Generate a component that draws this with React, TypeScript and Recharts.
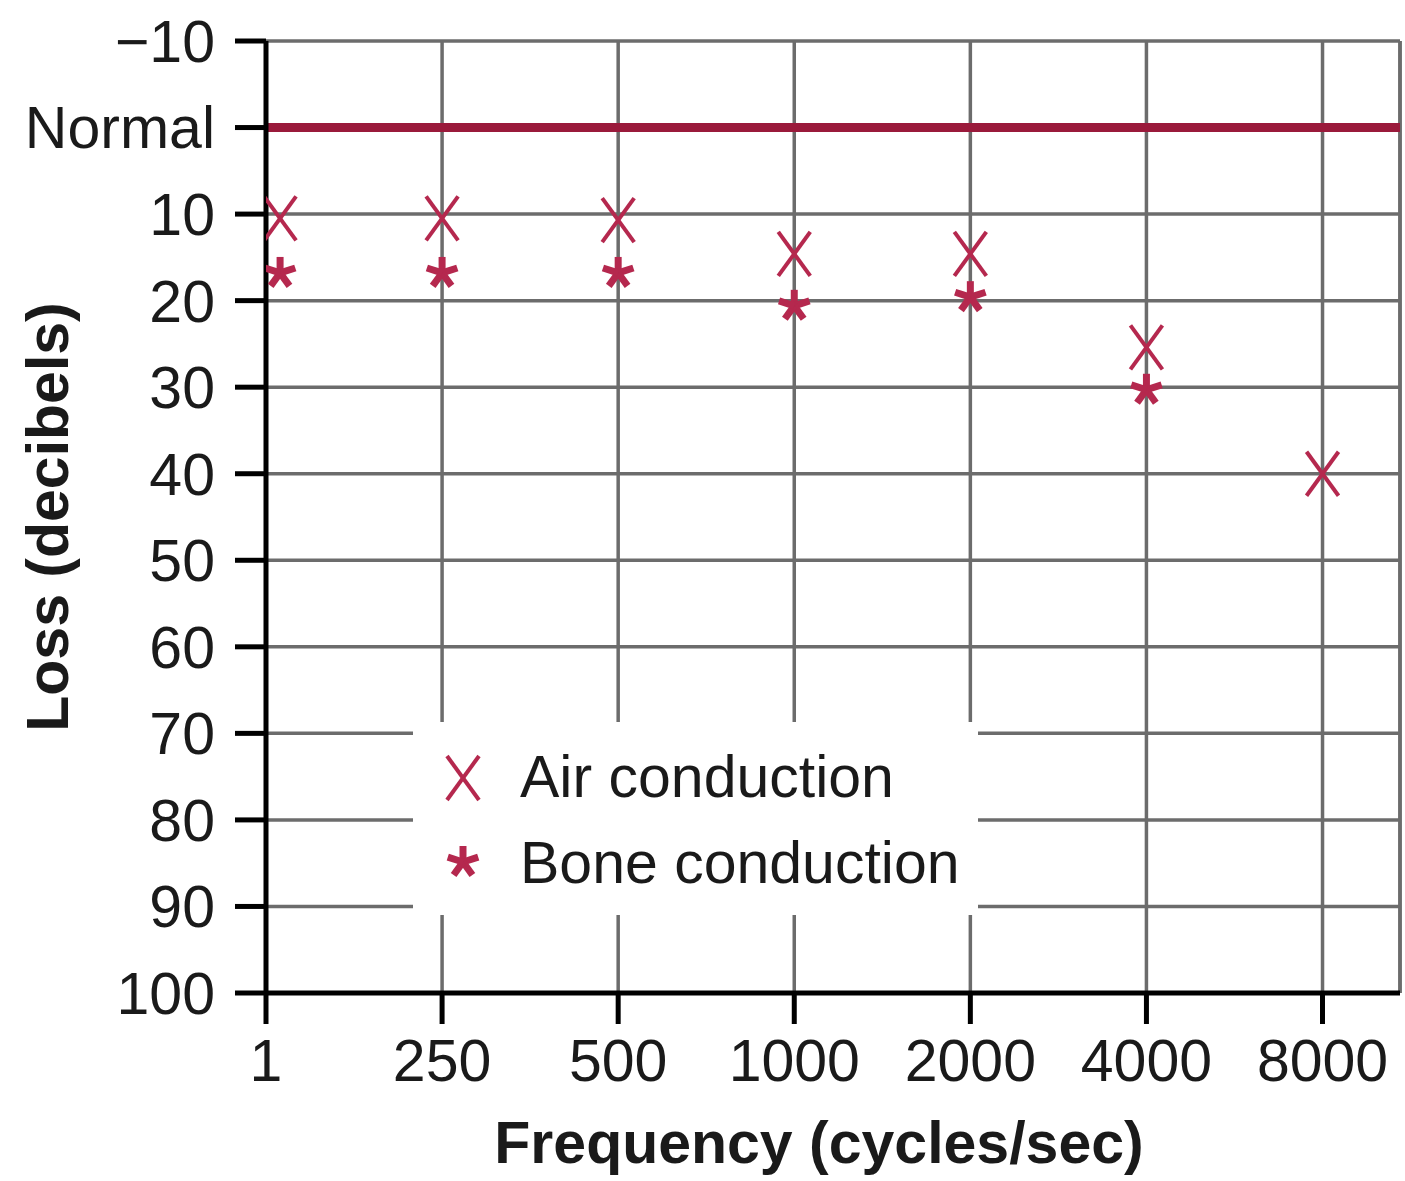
import React from 'react';
import { ScatterChart, Scatter, XAxis, YAxis, CartesianGrid, ReferenceLine, Label } from 'recharts';

// ---- data ----
const categories = ['1', '250', '500', '1000', '2000', '4000', '8000'];
const xPositions = [0.08, 1, 2, 3, 4, 5, 6];
const airConduction = [10.5, 10.5, 10.7, 14.6, 14.6, 25.4, 40];
const boneConduction: (number | null)[] = [16.8, 16.8, 16.8, 20.6, 19.6, 30.3, null];
const yTicks = [-10, 0, 10, 20, 30, 40, 50, 60, 70, 80, 90, 100];
const xTicks = [0, 1, 2, 3, 4, 5, 6];
const xMax = 6.44;
const normalLevel = 0;

const airData = xPositions.map((x, i) => ({ x, y: airConduction[i] }));
const boneData = xPositions
  .map((x, i) => ({ x, y: boneConduction[i] }))
  .filter((d) => d.y !== null);

const FONT = '"Liberation Sans", Arial, Helvetica, sans-serif';
const MARK = '#b5284e';
const NORMAL = '#9a1a3b';
const GRID = '#6c6c6c';
const TEXT = '#1a1a1a';
const FS = 59;

const drawX = (cx: number, cy: number) => (
  <g stroke={MARK} strokeWidth={4} fill="none">
    <line x1={cx - 16} y1={cy - 22} x2={cx + 16} y2={cy + 22} />
    <line x1={cx + 16} y1={cy - 22} x2={cx - 16} y2={cy + 22} />
  </g>
);

const drawStar = (cx: number, cy: number) => {
  const arms = [-90, -18, 54, 126, 198];
  return (
    <g stroke={MARK} strokeWidth={7} fill="none">
      {arms.map((a) => {
        const r = (a * Math.PI) / 180;
        return <line key={a} x1={cx} y1={cy} x2={cx + 16 * Math.cos(r)} y2={cy + 16 * Math.sin(r)} />;
      })}
    </g>
  );
};

const XShape = (props: any) => drawX(props.cx, props.cy);
const StarShape = (props: any) => drawStar(props.cx, props.cy);

const fmtY = (v: number) => (v === normalLevel ? 'Normal' : v < 0 ? '\u2212' + Math.abs(v) : String(v));

export default function App() {
  return (
    <div style={{ position: 'absolute', left: 0, top: 0, width: 1405, height: 1181, background: '#fff' }}>
      <ScatterChart width={1405} height={1181} margin={{ top: 41, right: 5, bottom: 0, left: 0 }}>
        <CartesianGrid stroke={GRID} strokeWidth={3.5} />
        <XAxis
          type="number"
          dataKey="x"
          domain={[0, xMax]}
          ticks={xTicks}
          interval={0}
          allowDataOverflow
          tickFormatter={(v: number) => categories[v]}
          height={188}
          axisLine={{ stroke: '#000', strokeWidth: 5 }}
          tickLine={{ stroke: '#000', strokeWidth: 5 }}
          tickSize={31}
          tickMargin={15}
          tick={{ fontSize: FS, fill: TEXT, fontFamily: FONT }}
        >
          <Label
            content={({ viewBox }: any) => (
              <text
                x={viewBox.x + viewBox.width / 2 - 14}
                y={viewBox.y + viewBox.height - 18}
                textAnchor="middle"
                fontSize={FS}
                fontWeight="bold"
                fontFamily={FONT}
                fill={TEXT}
              >
                Frequency (cycles/sec)
              </text>
            )}
          />
        </XAxis>
        <YAxis
          type="number"
          dataKey="y"
          reversed
          domain={[-10, 100]}
          ticks={yTicks}
          interval={0}
          width={266}
          tickFormatter={fmtY}
          axisLine={{ stroke: '#000', strokeWidth: 5 }}
          tickLine={{ stroke: '#000', strokeWidth: 5 }}
          tickSize={31}
          tickMargin={20}
          tick={{ fontSize: FS, fill: TEXT, fontFamily: FONT }}
        >
          <Label
            content={({ viewBox }: any) => {
              const x = 48;
              const y = viewBox.y + viewBox.height / 2;
              return (
                <text
                  x={x}
                  y={y}
                  transform={`rotate(-90, ${x}, ${y})`}
                  textAnchor="middle"
                  dominantBaseline="central"
                  fontSize={FS}
                  fontWeight="bold"
                  fontFamily={FONT}
                  fill={TEXT}
                >
                  Loss (decibels)
                </text>
              );
            }}
          />
        </YAxis>
        <ReferenceLine x={xMax} stroke={GRID} strokeWidth={3.5} />
        <ReferenceLine y={normalLevel} stroke={NORMAL} strokeWidth={9} />
        <Scatter name="Air conduction" data={airData} shape={XShape} isAnimationActive={false} />
        <Scatter name="Bone conduction" data={boneData} shape={StarShape} isAnimationActive={false} />
      </ScatterChart>
      <div
        style={{
          position: 'absolute',
          left: 413,
          top: 722,
          width: 565,
          height: 193,
          background: '#fff',
        }}
      >
        <svg width={565} height={193}>
          {drawX(50, 56)}
          <text x={107} y={75} fontSize={FS} fontFamily={FONT} fill={TEXT}>
            Air conduction
          </text>
          {drawStar(50, 140)}
          <text x={107} y={161} fontSize={FS} fontFamily={FONT} fill={TEXT}>
            Bone conduction
          </text>
        </svg>
      </div>
    </div>
  );
}
